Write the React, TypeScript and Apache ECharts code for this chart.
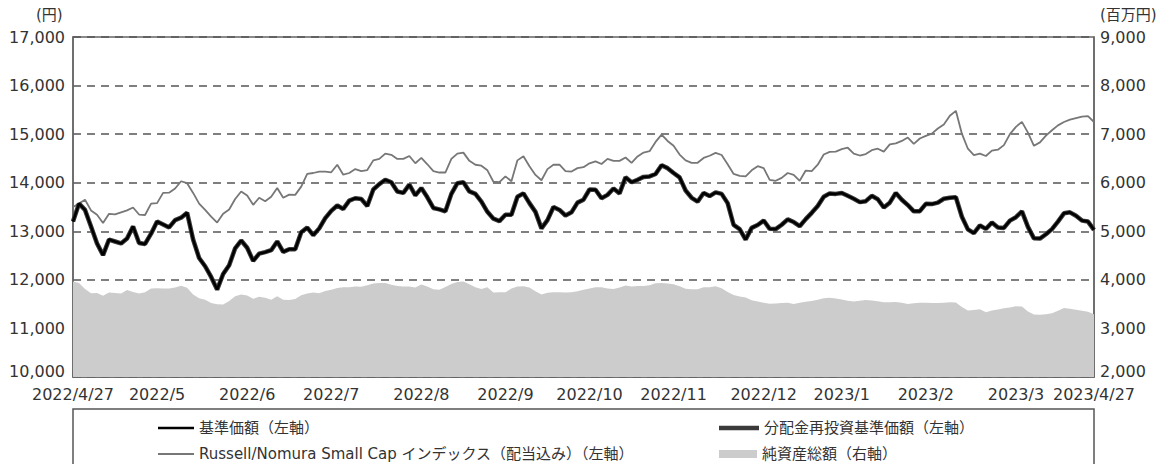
import React, { useEffect, useRef } from "react";
import * as echarts from "echarts";

const tickLabels = ["2022/4/27", "2022/5", "2022/6", "2022/7", "2022/8", "2022/9", "2022/10", "2022/11", "2022/12", "2023/1", "2023/2", "2023/3", "2023/4/27"];
const tickIndex = [0, 14, 29, 43, 58, 72, 86, 100, 115, 128, 142, 157, 170];

// 基準価額 (= 分配金再投資基準価額, no distributions)
const nav = [
  13200, 13570, 13440, 13100, 12750, 12510, 12830, 12790, 12750, 12850,
  13100, 12760, 12740, 12950, 13200, 13140, 13080, 13230, 13280, 13380,
  12830, 12450, 12280, 12060, 11800, 12120, 12300, 12650, 12810, 12660,
  12390, 12540, 12570, 12610, 12790, 12575, 12630, 12630, 12980, 13075,
  12920, 13060, 13270, 13420, 13530, 13460, 13630, 13680, 13665, 13520,
  13860, 13970, 14060, 14010, 13820, 13790, 13960, 13740, 13890, 13700,
  13480, 13450, 13410, 13770, 13990, 14010, 13820, 13770, 13610, 13400,
  13260, 13210, 13340, 13340, 13710, 13780, 13580, 13400, 13060, 13230,
  13500, 13440, 13325, 13390, 13590, 13650, 13860, 13855, 13680, 13750,
  13880, 13780, 14110, 14010, 14060, 14120, 14130, 14180, 14360, 14300,
  14200, 14110, 13840, 13690, 13610, 13790, 13725, 13800, 13770, 13580,
  13130, 13045, 12830, 13070, 13130, 13220, 13050, 13045, 13135, 13245,
  13190, 13105, 13250, 13380, 13520, 13710, 13780, 13770, 13790, 13730,
  13670, 13600, 13620, 13730, 13660, 13490, 13590, 13790, 13650, 13540,
  13410, 13415, 13565, 13560, 13590, 13670, 13690, 13700, 13300, 13040,
  12960, 13120, 13050, 13180, 13080, 13070, 13220, 13290, 13410, 13090,
  12855, 12850, 12940, 13045, 13200, 13370, 13390, 13320, 13220, 13200,
  13030,
];

// Russell/Nomura Small Cap インデックス（配当込み）
const russell = [
  13500, 13570, 13650, 13430, 13340, 13170, 13360, 13350, 13390, 13430,
  13490, 13345, 13335, 13570, 13580, 13790, 13795, 13880, 14030, 13990,
  13790, 13570, 13440, 13300, 13180, 13360, 13450, 13665, 13820, 13735,
  13545, 13690, 13620, 13710, 13890, 13690, 13755, 13750, 13920, 14180,
  14200, 14230, 14230, 14215, 14370, 14165, 14200, 14280, 14240, 14260,
  14460, 14490, 14600, 14575, 14490, 14490, 14550, 14400, 14510, 14380,
  14240, 14210, 14210, 14490, 14600, 14620, 14450, 14370, 14350, 14255,
  14020, 14010, 14130, 14030, 14460, 14545, 14340, 14160, 14050, 14280,
  14370, 14370, 14240, 14230, 14300, 14320, 14400, 14440, 14385, 14490,
  14450, 14450, 14520, 14410, 14540, 14620, 14650, 14840, 14990, 14860,
  14760, 14580, 14460, 14410, 14410, 14510, 14555, 14615, 14570, 14380,
  14180, 14140, 14130, 14255, 14340, 14300, 14060, 14040, 14100, 14200,
  14160, 14040, 14250, 14240, 14370, 14580, 14635, 14640, 14690, 14720,
  14600, 14560, 14590, 14670, 14700, 14640, 14790, 14810, 14860, 14930,
  14800, 14910, 14965, 15010, 15116, 15200, 15380, 15480, 15010, 14700,
  14570, 14600, 14550, 14660, 14680, 14774, 15000, 15150, 15253, 15030,
  14760, 14830, 14970, 15080, 15180, 15250, 15300, 15330, 15360, 15370,
  15250,
];

// 純資産総額（百万円）
const netAssets = [
  3965, 3935, 3810, 3725, 3730, 3675, 3740, 3730, 3720, 3790,
  3750, 3720, 3745, 3820, 3827, 3820, 3820, 3845, 3880, 3835,
  3700, 3620, 3590, 3525, 3500, 3495, 3565, 3665, 3697, 3680,
  3610, 3650, 3630, 3590, 3660, 3590, 3585, 3605, 3685, 3717,
  3742, 3725, 3770, 3797, 3830, 3850, 3850, 3865, 3860, 3890,
  3925, 3935, 3933, 3900, 3872, 3864, 3865, 3845, 3903, 3862,
  3807, 3795, 3852, 3915, 3955, 3965, 3908, 3847, 3813, 3848,
  3742, 3745, 3745, 3820, 3864, 3870, 3842, 3763, 3700, 3732,
  3745, 3745, 3738, 3746, 3768, 3797, 3824, 3848, 3848, 3822,
  3812, 3842, 3882, 3864, 3876, 3876, 3888, 3930, 3936, 3923,
  3910, 3870, 3817, 3807, 3807, 3848, 3848, 3868, 3827, 3752,
  3686, 3655, 3635, 3581, 3552, 3531, 3507, 3512, 3522, 3527,
  3503, 3527, 3549, 3566, 3588, 3620, 3632, 3614, 3596, 3569,
  3552, 3569, 3584, 3576, 3560, 3540, 3540, 3546, 3527, 3505,
  3517, 3529, 3531, 3521, 3525, 3531, 3540, 3535, 3440, 3370,
  3380, 3395, 3335, 3368, 3390, 3413, 3433, 3455, 3450, 3350,
  3285, 3280, 3290, 3315, 3365, 3420, 3405, 3383, 3365, 3345,
  3290,
];

const FONT = '"DejaVu Sans", "Noto Sans CJK JP", sans-serif';
const TEXT = "#333333";
const AXIS = "#666666";

const nameNav = "基準価額（左軸）";
const nameRe = "分配金再投資基準価額（左軸）";
const nameRus = "Russell/Nomura Small Cap インデックス（配当込み）（左軸）";
const nameNa = "純資産総額（右軸）";

export default function App() {
  const ref = useRef<HTMLDivElement>(null);
  useEffect(() => {
    const chart = echarts.init(ref.current!, null, { renderer: "svg" });
    const categories = nav.map((_, i) => String(i));
    const showTick = (i: number) => tickIndex.indexOf(i) >= 0;
    const fmtWithLift = (min: number) => (v: number) => (v === min ? "{low|" + v.toLocaleString("en-US") + "}" : v.toLocaleString("en-US"));
    const legendText = { fontSize: 15, color: TEXT, fontFamily: FONT, lineHeight: 18 };
    const lowRich = { low: { padding: [0, 0, 12, 0], fontSize: 16, color: TEXT, fontFamily: FONT } };
    chart.setOption({
      animation: false,
      backgroundColor: "#ffffff",
      grid: { left: 73, right: 79, top: 37, bottom: 87, show: true, borderColor: AXIS, borderWidth: 1.5, backgroundColor: "transparent" },
      xAxis: {
        type: "category",
        data: categories,
        boundaryGap: false,
        axisLine: { lineStyle: { color: AXIS, width: 1.5 } },
        axisTick: { show: true, inside: true, length: 7, interval: (i: number) => showTick(i), lineStyle: { color: AXIS, width: 1.5 } },
        axisLabel: {
          interval: (i: number) => showTick(i),
          formatter: (_v: string, i: number) => { const k = tickIndex.indexOf(i); return k >= 0 ? tickLabels[k] : ""; },
          margin: 9, fontSize: 16, color: TEXT, fontFamily: FONT,
        },
        splitLine: { show: false },
      },
      yAxis: [
        {
          type: "value", position: "left", min: 10000, max: 17000, interval: 1000,
          axisLine: { show: true, lineStyle: { color: AXIS, width: 1.5 } },
          axisTick: { show: false },
          axisLabel: { formatter: fmtWithLift(10000), rich: lowRich, margin: 8, fontSize: 16, color: TEXT, fontFamily: FONT },
          splitLine: { show: true, lineStyle: { type: [8, 6], color: "#555555", width: 1.5 } },
        },
        {
          type: "value", position: "right", min: 2000, max: 9000, interval: 1000,
          axisLine: { show: true, lineStyle: { color: AXIS, width: 1.5 } },
          axisTick: { show: false },
          axisLabel: { formatter: fmtWithLift(2000), rich: lowRich, margin: 6, fontSize: 16, color: TEXT, fontFamily: FONT },
          splitLine: { show: false },
        },
      ],
      legend: [
        { data: [{ name: nameNav, icon: "rect", itemStyle: { color: "#000000" } }], left: 158, top: 419, padding: 0, itemWidth: 36, itemHeight: 2.5, textStyle: legendText },
        { data: [{ name: nameRus, icon: "rect", itemStyle: { color: "#777777" } }], left: 158, top: 445, padding: 0, itemWidth: 36, itemHeight: 2, textStyle: legendText },
        { data: [{ name: nameRe, icon: "rect", itemStyle: { color: "#3a3a3a" } }], left: 719, top: 419, padding: 0, itemWidth: 40, itemHeight: 4.5, textStyle: legendText },
        { data: [{ name: nameNa, icon: "rect", itemStyle: { color: "#cccccc" } }], left: 719, top: 445, padding: 0, itemWidth: 38, itemHeight: 8, textStyle: legendText },
      ],
      graphic: [
        { type: "rect", shape: { x: 73, y: 409, width: 1021, height: 80 }, style: { fill: "none", stroke: "#555555", lineWidth: 1.5 }, silent: true },
        { type: "text", x: 36, y: 7, style: { text: "(円)", fontSize: 15, fill: TEXT, fontFamily: FONT } },
        { type: "text", x: 1100, y: 7, style: { text: "(百万円)", fontSize: 15, fill: TEXT, fontFamily: FONT } },
      ],
      series: [
        {
          name: nameNa, type: "line", yAxisIndex: 1, data: netAssets, symbol: "none", color: "#cccccc",
          lineStyle: { width: 0, color: "#cccccc" }, areaStyle: { color: "#cccccc", opacity: 1, origin: "start" }, z: 1,
        },
        { name: nameRus, type: "line", yAxisIndex: 0, data: russell, symbol: "none", color: "#777777", lineStyle: { width: 1.8, color: "#777777" }, z: 2 },
        { name: nameRe, type: "line", yAxisIndex: 0, data: nav, symbol: "none", color: "#3a3a3a", lineStyle: { width: 4.5, color: "#3a3a3a" }, z: 3 },
        { name: nameNav, type: "line", yAxisIndex: 0, data: nav, symbol: "none", color: "#000000", lineStyle: { width: 2.5, color: "#000000" }, z: 4 },
      ],
    });
    return () => chart.dispose();
  }, []);
  return <div ref={ref} style={{ position: "fixed", left: 0, top: 0, width: 1173, height: 464, background: "#ffffff" }} />;
}
